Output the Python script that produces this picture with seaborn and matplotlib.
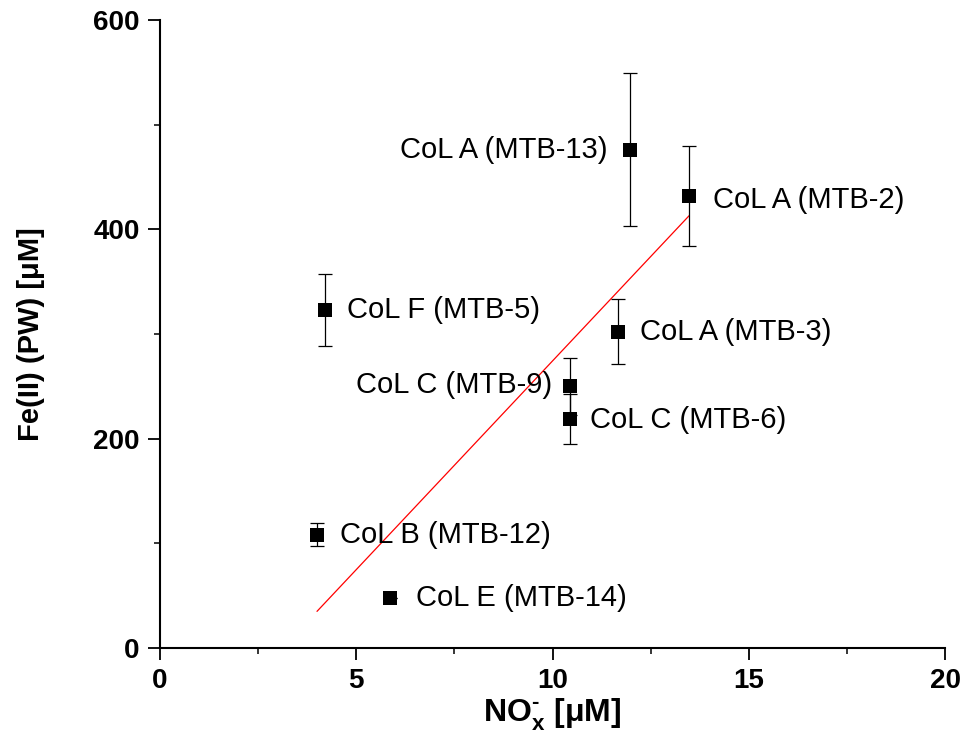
import matplotlib
matplotlib.use("Agg")
import matplotlib.pyplot as plt
from matplotlib.ticker import MultipleLocator
import seaborn as sns
import pandas as pd

# ---- data ----
labels = ["CoL A (MTB-13)", "CoL A (MTB-2)", "CoL F (MTB-5)", "CoL A (MTB-3)",
          "CoL C (MTB-9)", "CoL C (MTB-6)", "CoL B (MTB-12)", "CoL E (MTB-14)"]
nox = [11.97, 13.48, 4.20, 11.67, 10.45, 10.45, 3.99, 5.86]
fe2 = [476, 432, 323, 302, 250, 219, 108, 48]
fe2_err = [73, 48, 34, 31, 27, 24, 11, 0]
fit_x = [4.0, 13.48]
fit_y = [35, 413]
xticks = [0, 5, 10, 15, 20]
yticks = [0, 200, 400, 600]

df = pd.DataFrame({"label": labels, "nox": nox, "fe2": fe2, "err": fe2_err})
fit = pd.DataFrame({"x": fit_x, "y": fit_y})

sns.set_theme(style="ticks")
plt.rcParams["font.family"] = ["Liberation Sans", "DejaVu Sans"]
plt.rcParams["text.color"] = "black"
plt.rcParams["axes.labelcolor"] = "black"
plt.rcParams["mathtext.fontset"] = "custom"
plt.rcParams["mathtext.rm"] = "Liberation Sans:bold"
plt.rcParams["mathtext.bf"] = "Liberation Sans:bold"

fig = plt.figure(figsize=(9.63, 7.35), dpi=100)
ax = fig.add_axes([160 / 963, 1 - 648 / 735, 785 / 963, 628 / 735])

sns.lineplot(data=fit, x="x", y="y", ax=ax, color="red", linewidth=0.9, zorder=2)
ax.errorbar(df["nox"], df["fe2"], yerr=df["err"], fmt="none", ecolor="black",
            elinewidth=0.9, capsize=4.8, capthick=0.9, zorder=3)
sns.scatterplot(data=df, x="nox", y="fe2", ax=ax, marker="s", s=110,
                color="black", edgecolor="black", linewidth=0, zorder=4)

# label offsets in points (dx, dy, ha)
offsets = [(-16, 0, "right"), (17, -3, "left"), (16, 0, "left"), (16, 0, "left"),
           (-13, 1, "right"), (14, -1, "left"), (17, 0, "left"), (19, 0, "left")]
for lab, x, y, (dx, dy, ha) in zip(df["label"], df["nox"], df["fe2"], offsets):
    ax.annotate(lab, (x, y), xytext=(dx, dy), textcoords="offset points",
                ha=ha, va="center", fontsize=21, color="black")

ax.set_xlim(0, 20)
ax.set_ylim(0, 600)
ax.set_xticks(xticks)
ax.set_yticks(yticks)
ax.xaxis.set_minor_locator(MultipleLocator(2.5))
ax.yaxis.set_minor_locator(MultipleLocator(100))
for side in ["top", "right"]:
    ax.spines[side].set_visible(False)
for side in ["left", "bottom"]:
    ax.spines[side].set_linewidth(1.5)
    ax.spines[side].set_color("black")
ax.tick_params(which="major", direction="out", length=8.5, width=1.3,
               labelsize=20, pad=6, colors="black")
ax.tick_params(which="minor", direction="out", length=4.5, width=1.1, colors="black")
for t in ax.get_xticklabels() + ax.get_yticklabels():
    t.set_fontweight("bold")

ax.set_xlabel(r"NO$_{\rm x}^{\text{-}}$ [μM]", fontsize=23, fontweight="bold",
              labelpad=1, color="black")
ax.set_ylabel("Fe(II) (PW) [μM]", fontsize=21, fontweight="bold", labelpad=35,
              color="black")
ax.grid(False)

fig.savefig("out.png", dpi=100)
